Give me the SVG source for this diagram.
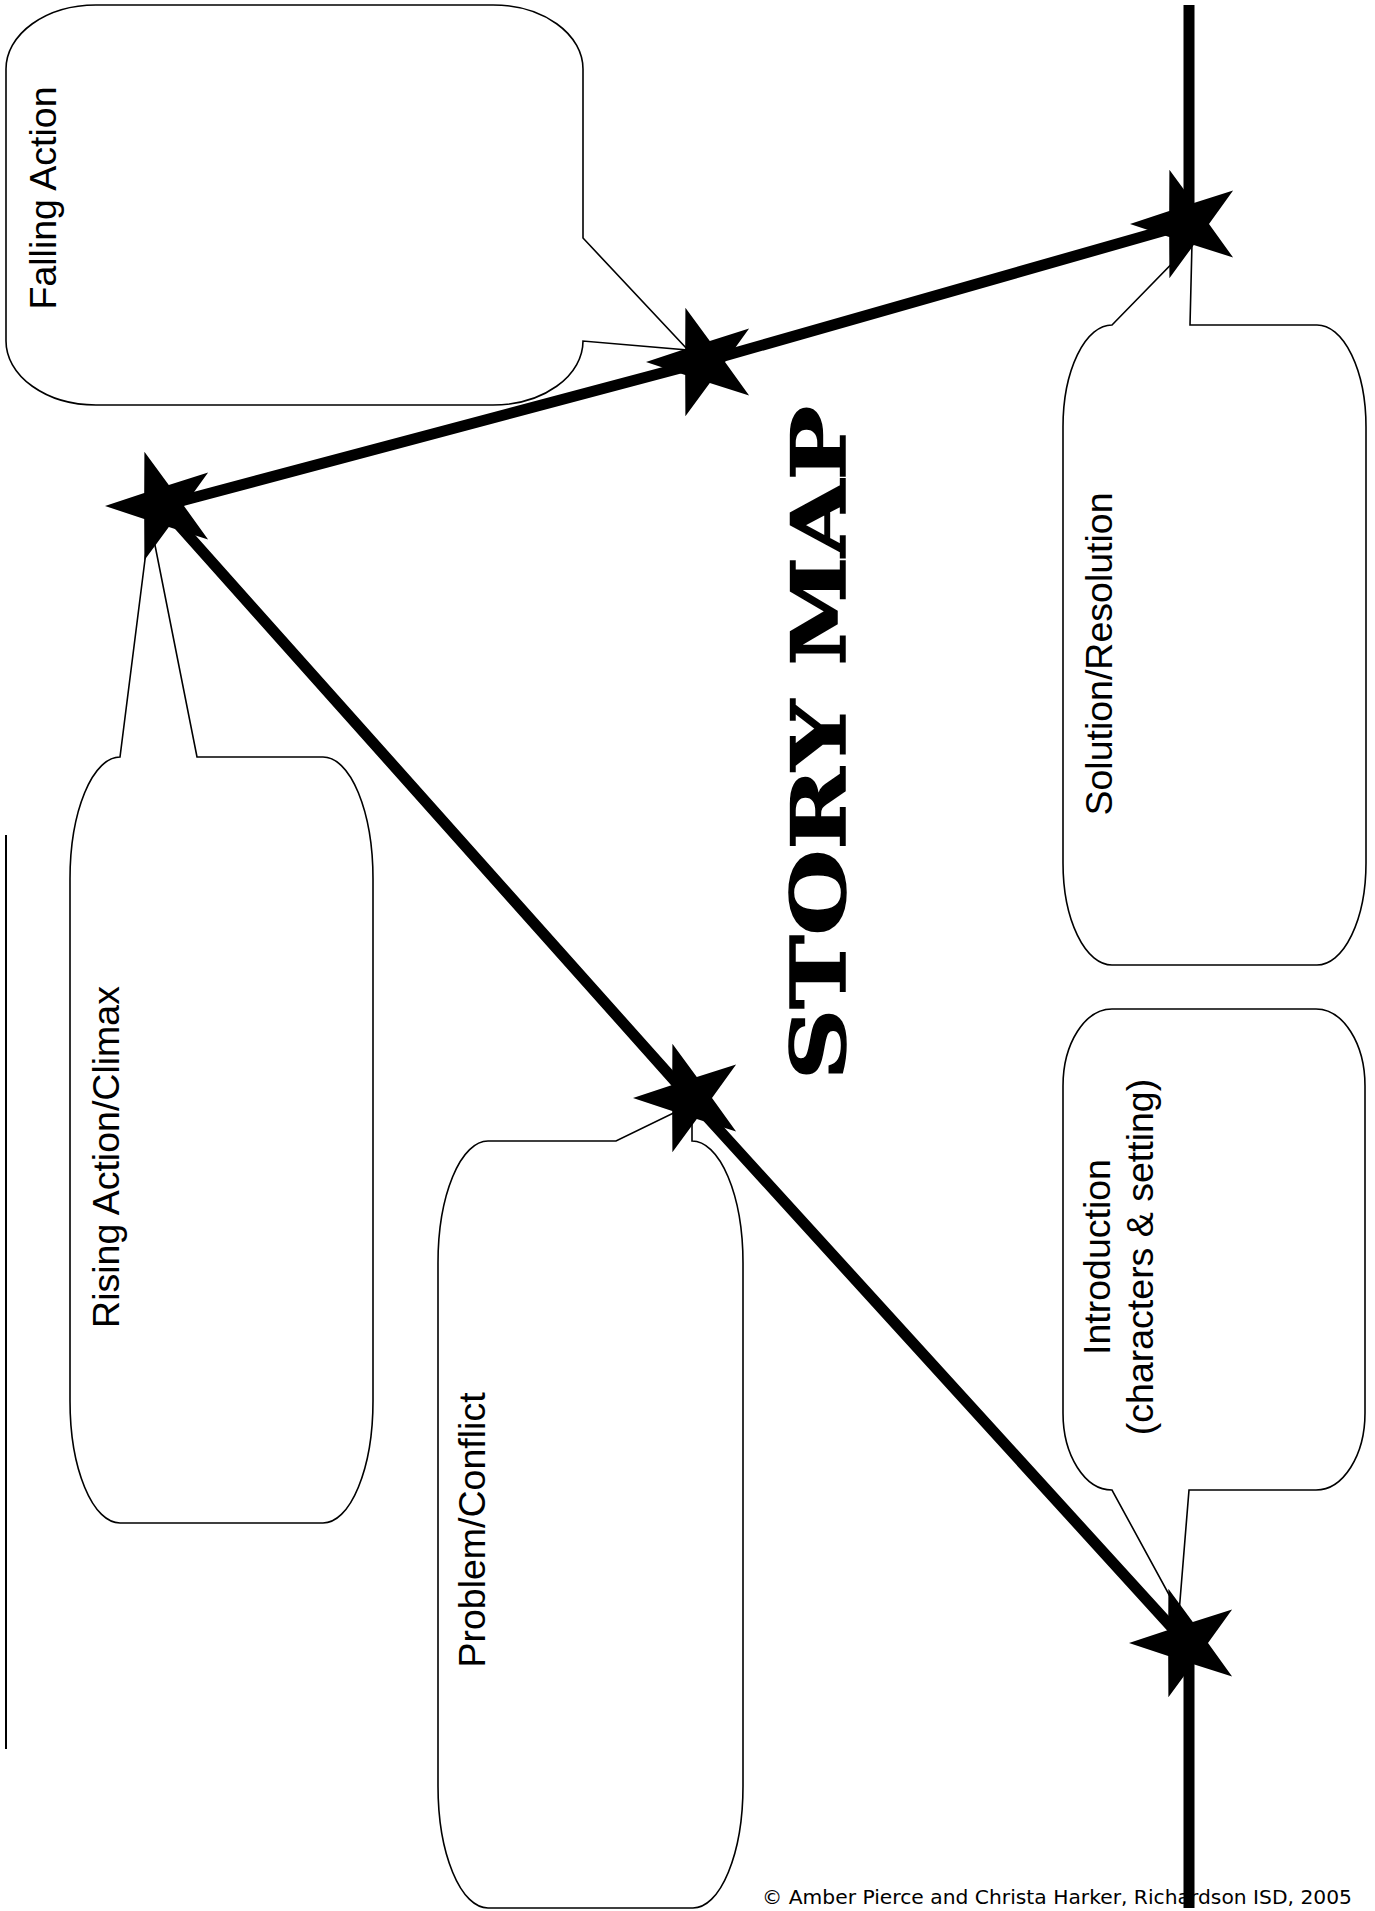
<svg xmlns="http://www.w3.org/2000/svg" xmlns:xlink="http://www.w3.org/1999/xlink" width="1375" height="1911" viewBox="0 0 1375 1911">
<style>
.box{fill:#fff;stroke:#000;stroke-width:1.6;stroke-linejoin:miter}
.lbl{font-family:"Liberation Sans",Arial,sans-serif;font-size:37.5px;fill:#000;text-anchor:middle}
.thick{stroke:#000;stroke-width:11;fill:none;stroke-linecap:butt}
.title{font-family:"DejaVu Serif","Liberation Serif",serif;font-weight:bold;font-size:74px;fill:#000;stroke:#000;stroke-width:1.5;text-anchor:middle}
.copy{font-family:"DejaVu Sans","Liberation Sans",sans-serif;font-size:19px;fill:#000}
</style>
<defs>
<polygon id="star" points="-57,0 -17.8,-12.9 -17.6,-54.2 6.8,-20.9 46.1,-33.5 22,0 46.1,33.5 6.8,20.9 -17.6,54.2 -17.8,12.9" fill="#000"/>
</defs>
<rect width="1375" height="1911" fill="#fff"/>
<text class="copy" x="762" y="1904" textLength="590" lengthAdjust="spacingAndGlyphs">© Amber Pierce and Christa Harker, Richardson ISD, 2005</text>
<line x1="6" y1="835" x2="6" y2="1749" stroke="#000" stroke-width="2"/>
<g id="falling-action">
<path class="box" d="M96,5 H493 A90 64 0 0 1 583,69 V238 L688,350 L583,341 A90 64 0 0 1 493,405 H96 A90 64 0 0 1 6,341 V69 A90 64 0 0 1 96,5 Z"/>
<text class="lbl" transform="translate(56,198) rotate(-90)">Falling Action</text>
</g>
<g id="rising-action">
<path class="box" d="M120,757 L150,520 L197,757 H323 A50 122 0 0 1 373,879 V1401 A50 122 0 0 1 323,1523 H120 A50 122 0 0 1 70,1401 V879 A50 122 0 0 1 120,757 Z"/>
<text class="lbl" transform="translate(119,1157) rotate(-90)">Rising Action/Climax</text>
</g>
<g id="problem-conflict">
<path class="box" d="M488,1141 H616 L692,1104 V1141 A51 122 0 0 1 743,1263 V1786 A50 122 0 0 1 693,1908 H488 A50 122 0 0 1 438,1786 V1263 A50 122 0 0 1 488,1141 Z"/>
<text class="lbl" transform="translate(485,1530) rotate(-90)">Problem/Conflict</text>
</g>
<g id="solution-resolution">
<path class="box" d="M1112,325 L1192,243 L1190,325 H1317 A49 102 0 0 1 1366,427 V863 A49 102 0 0 1 1317,965 H1112 A49 102 0 0 1 1063,863 V427 A49 102 0 0 1 1112,325 Z"/>
<text class="lbl" transform="translate(1112,654) rotate(-90)">Solution/Resolution</text>
</g>
<g id="introduction">
<path class="box" d="M1112,1009 H1316 A49 77 0 0 1 1365,1086 V1413 A49 77 0 0 1 1316,1490 H1189 L1179,1613 L1112,1490 A49 77 0 0 1 1063,1413 V1086 A49 77 0 0 1 1112,1009 Z"/>
<text class="lbl" transform="translate(1110,1257) rotate(-90)">Introduction</text>
<text class="lbl" transform="translate(1153,1257) rotate(-90)">(characters &amp; setting)</text>
</g>
<g id="title">
<text class="title" transform="translate(845,743) rotate(-90)" textLength="674" lengthAdjust="spacingAndGlyphs">STORY MAP</text>
</g>
<g id="connectors">
<line class="thick" x1="1189" y1="5" x2="1189" y2="224"/>
<polyline class="thick" points="1187,224 703,362 162,506 690,1098 1186,1643" stroke-linejoin="round"/>
<line class="thick" x1="1189" y1="1643" x2="1189" y2="1908"/>
</g>
<g id="stars">
<use id="star-solution" xlink:href="#star" transform="translate(1187,224)"/>
<use id="star-falling" xlink:href="#star" transform="translate(703,362)"/>
<use id="star-climax" xlink:href="#star" transform="translate(162,506)"/>
<use id="star-problem" xlink:href="#star" transform="translate(690,1098)"/>
<use id="star-intro" xlink:href="#star" transform="translate(1186,1643)"/>
</g>
</svg>
